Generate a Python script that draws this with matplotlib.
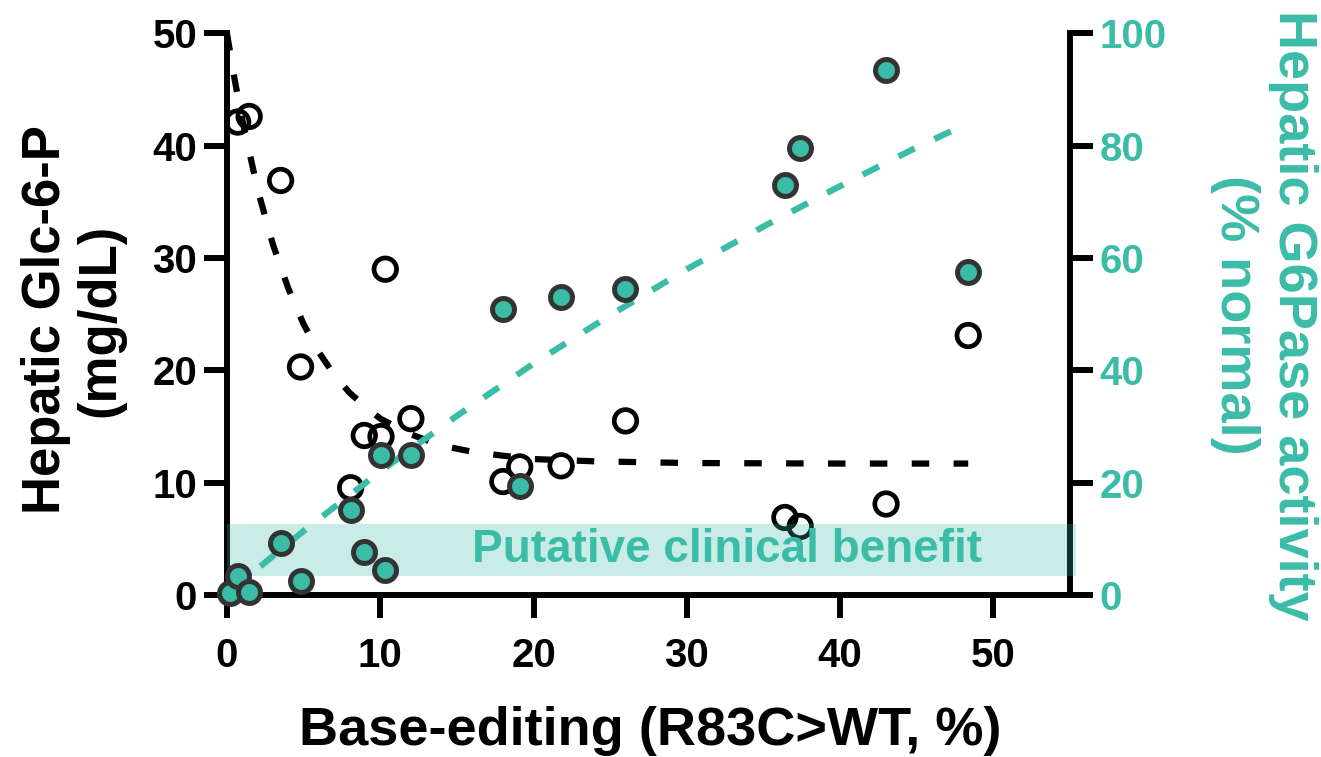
import numpy as np
import matplotlib
matplotlib.use("Agg")
import matplotlib.pyplot as plt
from matplotlib.patches import Rectangle

plt.rcParams["font.family"] = ["Liberation Sans", "DejaVu Sans"]
plt.rcParams["font.weight"] = "bold"

TEAL = "#3bbca7"

# base-editing % per animal (shared x)
EDIT = [0.2, 0.7, 1.45, 3.5, 4.8, 8.07, 8.96, 10.05, 10.33, 12.0,
        18.0, 19.1, 21.8, 26.0, 36.4, 37.4, 43.0, 48.36]
# hepatic Glc-6-P (mg/dL), left axis (first animal off scale)
G6P = [np.nan, 42.1, 42.6, 36.9, 20.3, 9.55, 14.2, 14.1, 29.0, 15.7,
       10.1, 11.4, 11.5, 15.5, 6.9, 6.1, 8.1, 23.1]
# hepatic G6Pase activity (% normal), right axis
ACT = [0.3, 3.4, 0.5, 9.3, 2.55, 15.2, 7.7, 24.9, 4.45, 24.9,
       51.0, 19.4, 53.0, 54.4, 73.0, 79.6, 93.5, 57.5]

# fitted curves
FIT_G6P_X = [0, 0.5, 1, 2, 3, 4, 5, 6, 7, 8, 9, 10, 12, 14, 16, 18, 20, 24, 30, 40, 48.36]
FIT_G6P_Y = [50, 45.9, 42.3, 36.1, 31.2, 27.3, 24.1, 21.6, 19.6, 18.0, 16.8, 15.7,
             14.3, 13.3, 12.75, 12.4, 12.1, 11.9, 11.75, 11.7, 11.7]
FIT_ACT_X = [0.2, 2, 5, 10, 15, 20, 25, 30, 35, 40, 45, 48.36]
FIT_ACT_Y = [0.5, 4.7, 11.4, 22.0, 31.9, 41.2, 49.8, 58.0, 65.6, 72.8, 79.7, 84.0]

BAND = (3.4, 12.6)  # putative clinical benefit, % normal

fig = plt.figure(figsize=(13.21, 7.57), dpi=100)
ax = fig.add_axes([0.1718, 0.214, 0.6382, 0.742])
ax2 = ax.twinx()

lw_sp = 4.3
for a in (ax, ax2):
    a.spines["top"].set_visible(False)
    for s in a.spines.values():
        s.set_linewidth(lw_sp)
ax.spines["right"].set_visible(False)
ax2.spines["left"].set_visible(False)
ax2.spines["bottom"].set_visible(False)

# left axis: Glc-6-P
l1, = ax.plot(FIT_G6P_X, FIT_G6P_Y, color="black", lw=4.5, zorder=2)
l1.set_dashes([2.8, 3.9])
l1.set_dash_capstyle("butt")
ax.scatter(EDIT, G6P, s=16.2 ** 2, facecolors="none", edgecolors="black",
           linewidths=3.4, zorder=3, clip_on=False)

ax.set_xlim(0, 55)
ax.set_ylim(0, 50)
ax.set_xticks([0, 10, 20, 30, 40, 50])
ax.set_yticks([0, 10, 20, 30, 40, 50])
ax.tick_params(length=16.5, width=lw_sp, labelsize=29, pad=5)
ax.tick_params(axis="x", pad=14)

# right axis: G6Pase activity
ax2.add_patch(Rectangle((0, BAND[0]), 55.4, BAND[1] - BAND[0], facecolor=TEAL,
                        alpha=0.27, edgecolor="none", zorder=2.6, clip_on=False))
ax2.text(32.6, 8.0, "Putative clinical benefit", color=TEAL, fontsize=33,
         fontweight="bold", ha="center", va="center", zorder=2.7)
l2, = ax2.plot(FIT_ACT_X, FIT_ACT_Y, color=TEAL, lw=4.5, zorder=2.8)
l2.set_dashes([2.9, 3.5])
l2.set_dash_capstyle("butt")
ax2.scatter(EDIT, ACT, s=15.8 ** 2, facecolors=TEAL, edgecolors="#333333",
            linewidths=3.6, zorder=3, clip_on=False)
ax2.set_ylim(0, 100)
ax2.set_yticks([0, 20, 40, 60, 80, 100])
ax2.tick_params(length=16.5, width=lw_sp, labelsize=29, pad=5,
                labelcolor=TEAL, color="black")

fig.text(73 / 1321, 1 - 320 / 757, "Hepatic Glc-6-P\n(mg/dL)", rotation=90,
         ha="center", va="center", fontsize=38, fontweight="bold",
         multialignment="center", linespacing=1.1)
fig.text(1264 / 1321, 1 - 315 / 757, "Hepatic G6Pase activity\n(% normal)",
         rotation=270, ha="center", va="center", fontsize=39, fontweight="bold",
         color=TEAL, multialignment="center", linespacing=1.2)
fig.text(650 / 1321, 1 - 745 / 757, "Base-editing (R83C>WT, %)", ha="center",
         va="baseline", fontsize=39, fontweight="bold")

fig.savefig("out.png", dpi=100)
